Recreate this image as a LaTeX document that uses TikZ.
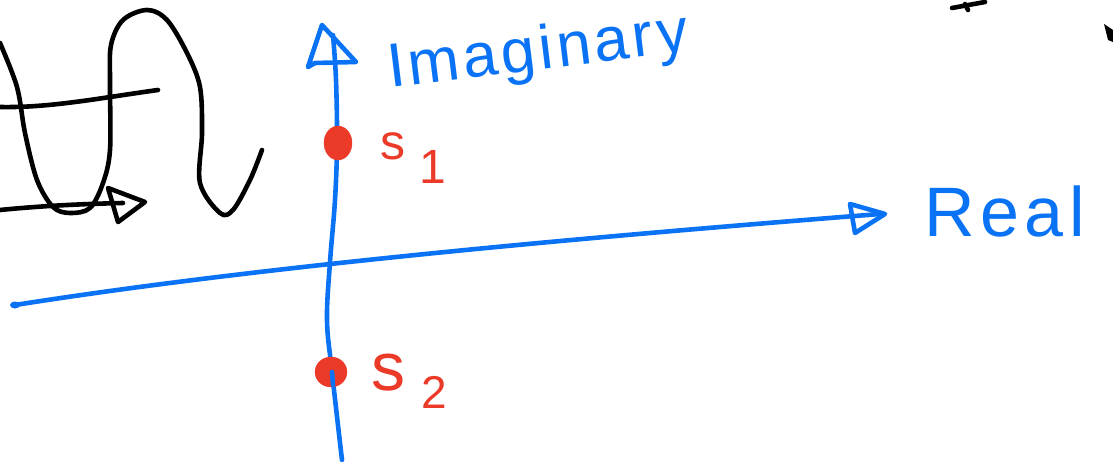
\documentclass[tikz,border=0pt]{standalone}
\usepackage{fontspec}
\setmainfont{Liberation Sans}
\usetikzlibrary{shapes.geometric}
\definecolor{penblue}{RGB}{10,115,245}
\definecolor{penred}{RGB}{236,58,40}
\tikzset{
  stroke/.style={line width=4.6pt, line cap=round, line join=round},
  bluepen/.style={stroke, draw=penblue},
  blackpen/.style={stroke, draw=black},
  headtri/.style={line width=4.6pt, line join=round, draw=#1},
  dot/.style={ellipse, fill=penred, draw=penred, inner sep=0pt},
  bluelabel/.style={text=penblue, inner sep=0pt, anchor=base west},
  redlabel/.style={text=penred, inner sep=0pt, anchor=base west},
}
\begin{document}
\begin{tikzpicture}[x=1pt,y=-1pt]
\useasboundingbox (0,0) rectangle (1113,462);
% --- coordinates of axes
\coordinate (imB) at (342,460);
\coordinate (imT) at (333,35);
\coordinate (reL) at (15,305);
\coordinate (reR) at (880,214);
% --- imaginary axis
\draw[bluepen] plot[smooth, tension=0.6] coordinates {(imB) (332,372) (327,320) (330,262) (335,200) (337,143) (336,80) (imT)};
\draw[headtri=penblue] (308,67) -- (322,25) -- (356,62) -- (315,63) -- cycle;
% --- real axis
\draw[bluepen] (reL) .. controls (250,268) and (550,240) .. (reR);
\fill[penblue] (reL) ellipse (5pt and 3.5pt);
\draw[headtri=penblue] (850,204) -- (885,214) -- (855,233) -- cycle;
% --- labels
\node[bluelabel, rotate=7] (imag) at (390,88) {\fontsize{62}{62}\selectfont\addfontfeatures{LetterSpace=6}Imaginary};
\node[bluelabel] (real) at (924,237) {\fontsize{70}{70}\selectfont\addfontfeatures{LetterSpace=8}Real};
% --- poles
\node[dot, minimum width=28pt, minimum height=34pt] (s1) at (338,143) {};
\node[dot, minimum width=32pt, minimum height=30pt] (s2) at (331,372) {};
\draw[penblue, line width=4.6pt, line cap=round] (332,372) -- (333,385);
\node[redlabel] (s1l) at (380,160) {\fontsize{50}{50}\selectfont s\hspace{14pt}\raisebox{-24pt}{\fontsize{48}{48}\selectfont 1}};
\node[redlabel] (s2l) at (371,390) {\fontsize{68}{68}\selectfont s\hspace{16pt}\raisebox{-18pt}{\fontsize{46}{46}\selectfont 2}};
% --- black wave sketch
\draw[blackpen] plot[smooth, tension=0.55] coordinates {(0,43) (17,87) (25,133) (37,180) (53,207) (70,213) (90,208) (103,183) (110,150) (110,83) (111,45) (123,20) (147,10) (167,20) (187,53) (200,87) (202,133) (200,183) (220,213) (233,210) (250,180) (262,150)};
\draw[blackpen] (0,107) .. controls (50,108) and (100,98) .. (158,90);
\draw[blackpen] (0,210) .. controls (40,206) and (80,204) .. (123,203);
\draw[headtri=black] (108,188) -- (145,202) -- (118,222) -- cycle;
% --- marks at top right
\draw[blackpen] (952,8) -- (985,2);
\draw[blackpen] (965,4) -- (968,10);
\fill[black] (1104,24) -- (1113,30) -- (1113,42) -- (1108,40) -- cycle;
\end{tikzpicture}
\end{document}
